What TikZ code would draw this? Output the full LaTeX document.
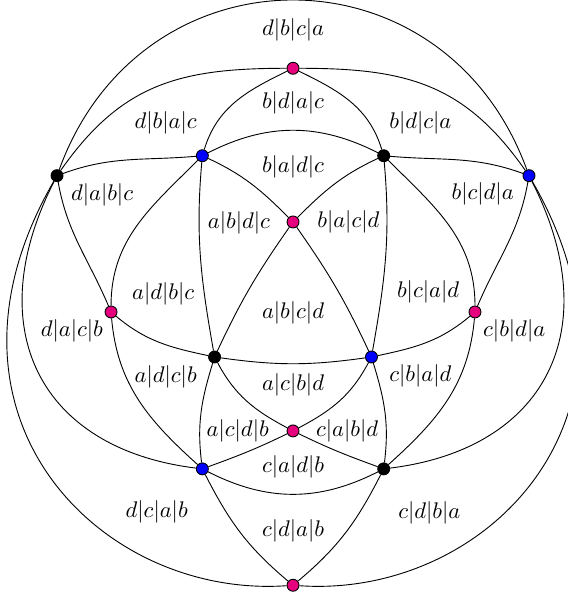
\documentclass[tikz,border=0pt]{standalone}
\usepackage{amsmath,amssymb}
\usepackage{tikz}
\usepackage{xcolor}
\definecolor{vmag}{RGB}{230,0,126}

\begin{document}
\begin{tikzpicture}[v/.style={circle,draw,inner sep=0pt,minimum size=5.3pt},
  vm/.style={v,fill=vmag},vk/.style={v,fill=black},vb/.style={v,fill=blue}]
\useasboundingbox (-4.557,-4.386) rectangle (4.261,4.852);
% vertices
\node[vm] (m1) at (0,3.79) {};
\node[vk] (k1) at (-3.67,2.12) {};
\node[vb] (b1) at (3.67,2.12) {};
\node[vb] (b2) at (-1.41,2.43) {};
\node[vk] (k2) at (1.41,2.43) {};
\node[vm] (m2) at (0,1.40) {};
\node[vm] (m3) at (-2.83,0) {};
\node[vm] (m4) at (2.83,0) {};
\node[vk] (k3) at (-1.22,-0.70) {};
\node[vb] (b3) at (1.22,-0.70) {};
\node[vm] (m5) at (0,-1.85) {};
\node[vb] (b4) at (-1.41,-2.44) {};
\node[vk] (k4) at (1.41,-2.44) {};
\node[vm] (m6) at (0,-4.25) {};
% regions
\node (dbca) at (0,4.39) {$d|b|c|a$};
\node (bdac) at (0,3.25) {$b|d|a|c$};
\node (dbac) at (-1.98,2.94) {$d|b|a|c$};
\node (bdca) at (1.98,2.94) {$b|d|c|a$};
\node (dabc) at (-2.97,1.82) {$d|a|b|c$};
\node (badc) at (0,2.26) {$b|a|d|c$};
\node (bcda) at (2.95,1.84) {$b|c|d|a$};
\node (abdc) at (-0.84,1.38) {$a|b|d|c$};
\node (bacd) at (0.86,1.40) {$b|a|c|d$};
\node (adbc) at (-2.02,0.28) {$a|d|b|c$};
\node (bcad) at (2.10,0.31) {$b|c|a|d$};
\node (dacb) at (-3.44,-0.30) {$d|a|c|b$};
\node (cbda) at (3.44,-0.30) {$c|b|d|a$};
\node (abcd) at (0,-0.02) {$a|b|c|d$};
\node (adcb) at (-1.98,-1.01) {$a|d|c|b$};
\node (cbad) at (1.98,-1.00) {$c|b|a|d$};
\node (acbd) at (0,-1.14) {$a|c|b|d$};
\node (acdb) at (-0.86,-1.85) {$a|c|d|b$};
\node (cabd) at (0.84,-1.85) {$c|a|b|d$};
\node (cadb) at (0,-2.41) {$c|a|d|b$};
\node (dcab) at (-2.12,-3.11) {$d|c|a|b$};
\node (cdab) at (0,-3.40) {$c|d|a|b$};
\node (cdba) at (2.12,-3.13) {$c|d|b|a$};
% edges
\draw (k1) to[out=55,in=180,looseness=1.1] (m1);
\draw (m1) to[out=0,in=125,looseness=1.1] (b1);
\draw (k1) to[out=70,in=110,looseness=1.32] (b1);
\draw (k1) to[out=20,in=185] (b2);
\draw (m1) to[out=206,in=73] (b2);
\draw (m1) to[out=-26,in=107] (k2);
\draw (b2) to[out=27,in=153] (k2);
\draw (k2) to[out=-5,in=160] (b1);
\draw (b2) to[out=-25,in=135] (m2);
\draw (k2) to[out=205,in=45] (m2);
\draw (b2) to[out=225,in=90] (m3);
\draw (b2) to[out=265,in=100] (k3);
\draw (k2) to[out=275,in=80] (b3);
\draw (k2) to[out=-45,in=90] (m4);
\draw (k1) to[out=-80,in=113] (m3);
\draw (b1) to[out=260,in=67] (m4);
\draw (m2) to[out=235,in=65] (k3);
\draw (m2) to[out=305,in=115] (b3);
\draw (m3) to[out=-40,in=168] (k3);
\draw (m4) to[out=220,in=12] (b3);
\draw (m3) to[out=-85,in=138] (b4);
\draw (m4) to[out=265,in=42] (k4);
\draw (k3) to[out=-8,in=188] (b3);
\draw (k3) to[out=-62,in=152] (m5);
\draw (b3) to[out=242,in=28] (m5);
\draw (k3) to[out=253,in=97] (b4);
\draw (b3) to[out=287,in=83] (k4);
\draw (m5) to[out=206,in=20] (b4);
\draw (m5) to[out=-26,in=160] (k4);
\draw (b4) to[out=-27,in=207] (k4);
\draw (b4) to[out=-63,in=140] (m6);
\draw (k4) to[out=243,in=40] (m6);
\draw (k1) .. controls +(243:2.68) and +(173:2.54) .. (b4);
\draw (b1) .. controls +(297:2.68) and +(7:2.54) .. (k4);
\draw (k1) .. controls +(240:4.31) and +(184:3.01) .. (m6);
\draw (b1) .. controls +(300:4.31) and +(-4:3.01) .. (m6);
\end{tikzpicture}
\end{document}
